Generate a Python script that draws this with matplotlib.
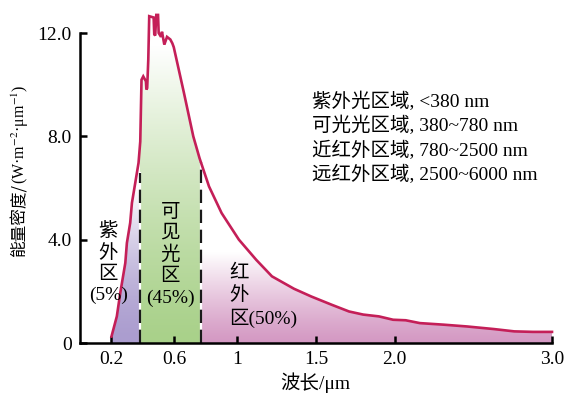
import numpy as np
import matplotlib
matplotlib.use('Agg')
import matplotlib.pyplot as plt
from matplotlib.colors import LinearSegmentedColormap
from matplotlib.patches import Polygon

plt.rcParams['font.family'] = ['Liberation Serif', 'Noto Sans CJK SC', 'DejaVu Serif']
plt.rcParams['mathtext.fontset'] = 'stix'

# solar spectrum (wavelength in um, energy density)
wavelength = [0.200, 0.234, 0.256, 0.288, 0.298, 0.319, 0.330, 0.351, 0.372, 0.383,
              0.391, 0.402, 0.419, 0.422, 0.427, 0.434, 0.440, 0.468, 0.472, 0.478,
              0.485, 0.496, 0.500, 0.515, 0.521, 0.536, 0.553, 0.574, 0.587, 0.596,
              0.660, 0.720, 0.760, 0.820, 0.900, 1.010, 1.120, 1.220, 1.360, 1.470,
              1.600, 1.710, 1.800, 1.900, 1.990, 2.070, 2.160, 2.310, 2.460, 2.630,
              2.760, 2.880, 3.000]
energy = [0.25, 1.03, 1.94, 3.10, 3.87, 4.65, 5.42, 6.19, 6.97, 7.80,
          10.19, 10.32, 10.13, 9.81, 9.87, 10.97, 12.65, 12.60, 11.95, 11.90,
          12.70, 12.70, 12.00, 11.85, 12.05, 11.55, 11.85, 11.75, 11.60, 11.45,
          9.70, 8.00, 7.15, 6.06, 5.03, 4.00, 3.22, 2.58, 2.10, 1.80,
          1.48, 1.22, 1.10, 1.03, 0.90, 0.88, 0.77, 0.71, 0.64, 0.54,
          0.45, 0.43, 0.43]

uv_end = 0.38
vis_end = 0.77
x_ticks = [0.2, 0.6, 1, 1.5, 2.0, 3.0]
x_ticklabels = ['0.2', '0.6', '1', '1.5', '2.0', '3.0']
y_ticks = [0, 4, 8, 12]
y_ticklabels = ['0', '4.0', '8.0', '12.0']
legend_lines = ['紫外光区域, <380 nm', '可光光区域, 380~780 nm',
                '近红外区域, 780~2500 nm', '远红外区域, 2500~6000 nm']

wl = np.array(wavelength)
en = np.array(energy)

fig = plt.figure(figsize=(5.67, 3.95), dpi=100)
ax = fig.add_axes([80 / 567, 1 - 343 / 395, 472 / 567, 310 / 395])


def region_poly(x0, x1):
    inside = (wl > x0) & (wl < x1)
    xs = np.concatenate([[x0], wl[inside], [x1]])
    ys = np.concatenate([[np.interp(x0, wl, en)], en[inside], [np.interp(x1, wl, en)]])
    pts = np.column_stack([np.concatenate([xs, [x1, x0]]), np.concatenate([ys, [0, 0]])])
    return Polygon(pts, closed=True, facecolor='none', edgecolor='none')


def gradient_fill(x0, x1, color, top, power=1.0):
    poly = region_poly(x0, x1)
    ax.add_patch(poly)
    cmap = LinearSegmentedColormap.from_list('g', [color, '#ffffff'])
    grad = (np.linspace(0, 1, 256) ** power).reshape(-1, 1)
    im = ax.imshow(grad, cmap=cmap, extent=[x0, x1, 0, top], origin='lower',
                   aspect='auto', zorder=1, interpolation='bilinear')
    im.set_clip_path(poly)


gradient_fill(0.2, uv_end, '#ab9dcf', 6.0, 1.6)
gradient_fill(uv_end, vis_end, '#a9d18a', 11.5, 1.3)
gradient_fill(vis_end, 3.0, '#d499c3', 3.5, 1.2)
ax.set_xlim(0, 3.0)
ax.set_ylim(0, 12.0)

# boundary lines
for xb, yt in [(uv_end, 6.6), (vis_end, 7.0)]:
    ax.plot([xb, xb], [0, yt], color='white', lw=1.6, zorder=2)
    ax.plot([xb, xb], [0, yt], color='#1a1a1a', lw=1.6, dashes=(6, 3), zorder=3)

ax.plot(wl, en, color='#c41f58', lw=1.9, zorder=4, clip_on=False, solid_joinstyle='miter')

for s in ['top', 'right']:
    ax.spines[s].set_visible(False)
for s in ['left', 'bottom']:
    ax.spines[s].set_linewidth(1.8)
    ax.spines[s].set_zorder(5)

ax.set_xticks(x_ticks)
ax.set_xticklabels(x_ticklabels)
ax.set_yticks(y_ticks)
ax.set_yticklabels(y_ticklabels)
ax.tick_params(direction='in', length=5, width=1.8, labelsize=14, pad=6)

cjk = 14
ax.text(0.18, 3.1, '紫\n外\n区\n(5%)', ha='center', va='center', fontsize=cjk,
        linespacing=1.3, zorder=6)
ax.text(0.574, 3.4, '可\n见\n光\n区\n(45%)', ha='center', va='center', fontsize=cjk,
        linespacing=1.3, zorder=6)
ax.text(0.95, 1.8, '红\n外\n区(50%)', ha='left', va='center', fontsize=cjk,
        linespacing=1.3, zorder=6)

for i, line in enumerate(legend_lines):
    ax.text(1.474, 9.36 - i * 0.95, line, ha='left', va='center', fontsize=14)

fig.text(315 / 567, 1 - 383 / 395, '波长/μm', ha='center', va='center', fontsize=14)

# y label in two pieces so the superscripts can use mathtext
ylab_cjk = fig.text(20 / 567, 1 - 257 / 395, '能量密度/', ha='center', va='bottom',
                    fontsize=12, rotation=90, family='Noto Sans CJK SC')
fig.canvas.draw()
bb = ylab_cjk.get_window_extent().transformed(fig.transFigure.inverted())
fig.text(20 / 567, bb.y1, r'(W·m$^{-2}$·μm$^{-1}$)', ha='center', va='bottom',
         fontsize=11.5, rotation=90, family='Liberation Serif')

fig.savefig('out.png', dpi=100)
